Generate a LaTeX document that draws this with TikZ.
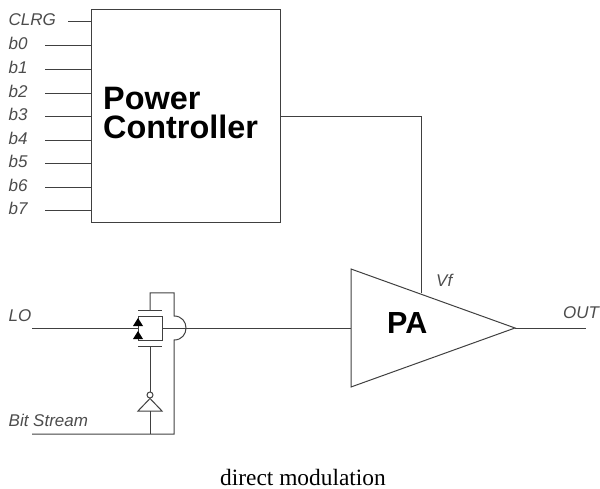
\documentclass[tikz,border=0pt]{standalone}
\usepackage{fontspec}
\setmainfont{Liberation Serif}
\setsansfont{Liberation Sans}
\usetikzlibrary{calc}
\tikzset{
	wire/.style={line width=1pt, black!75},
	siglabel/.style={font=\sffamily\itshape\fontsize{17}{19}\selectfont, text=black!70, inner sep=0pt, anchor=base west},
	biglabel/.style={font=\sffamily\bfseries\fontsize{30.5}{29}\selectfont, inner sep=0pt},
	tiparrow/.style={fill=black, draw=none}
}

\begin{document}
\begin{tikzpicture}[x=1pt, y=-1pt]
	\useasboundingbox (0, 0) rectangle (600, 489);
	% power controller and its inputs
	\node[draw=black!75, line width=1pt, minimum width=189pt, minimum height=213pt, inner sep=0pt] (pc) at (185.5, 116.5) {};
	\node[biglabel, font=\sffamily\bfseries\fontsize{32.4}{29}\selectfont, align=left, anchor=west] (pctext) at (103, 113) {Power\\Controller};
	\node[siglabel] (clrg) at (8.5, 26) {CLRG};
	\coordinate (clrg in) at (68, 22);
	\draw[wire] (clrg in) -- (clrg in -| pc.west);
	\foreach \i in {0,...,7}{
		\pgfmathsetmacro{\ypos}{46+23.57*\i}
		\node[siglabel] (b\i) at (8.5, \ypos+4) {b\i};
		\coordinate (b\i in) at (45, \ypos);
		\draw[wire] (b\i in) -- (b\i in -| pc.west);
	}
	% power amplifier
	\coordinate (pa a) at (351, 269);
	\coordinate (pa b) at (351, 387);
	\coordinate (pa c) at (515, 328);
	\draw[wire] (pa a) -- (pa c) -- (pa b) -- cycle;
	\node[biglabel, anchor=base west] (pa) at (387, 333) {PA};
	\coordinate (vf in) at (421, 293);
	\node[siglabel] (vf) at (436, 287) {Vf};
	\draw[wire] ($(pc.north east)!0.5!(pc.south east)$) -| (vf in);
	\coordinate (out end) at (586, 328);
	\node[siglabel] (out) at (563, 319) {OUT};
	\draw[wire] (pa c) -- (out end);
	% transmission gate
	\node[siglabel] (lo) at (8.5, 321) {LO};
	\node[siglabel] (bits) at (8.5, 426) {Bit Stream};
	\coordinate (lo in) at (32, 328);
	\coordinate (bits in) at (32, 434);
	\coordinate (gate tl) at (138, 316);
	\coordinate (gate br) at (162, 340);
	\draw[wire] (lo in) -- (lo in -| gate tl);
	\draw[wire] (gate tl) -| (gate br) -| cycle;
	\draw[wire] (lo in -| gate br) -- (lo in -| pa a);
	\draw[wire] (138, 310) -- (162, 310);
	\draw[wire] (138, 346) -- (162, 346);
	\fill[tiparrow] (138, 318) -- (143, 326) -- (133, 326) -- cycle;
	\fill[tiparrow] (138, 331) -- (143, 339) -- (133, 339) -- cycle;
	\draw[wire] (150, 310) -- (150, 293) -- (174, 293) -- (174, 316)
		.. controls (190, 316) and (190, 340) .. (174, 340) -- (174, 434) -- (bits in);
	% inverter
	\node[draw=black!75, line width=1pt, circle, minimum size=6pt, inner sep=0pt] (bubble) at (150, 395) {};
	\coordinate (inv a) at (138, 411);
	\coordinate (inv b) at (162, 411);
	\draw[wire] (inv a) -- (inv b) -- (bubble.south) -- cycle;
	\draw[wire] (150, 346) -- (bubble.north);
	\draw[wire] (150, 411) -- (150, 434);
	\node[font=\fontsize{23.4}{25}\selectfont, inner sep=0pt, anchor=base] (caption) at (303, 485.5) {direct modulation};
\end{tikzpicture}
\end{document}
